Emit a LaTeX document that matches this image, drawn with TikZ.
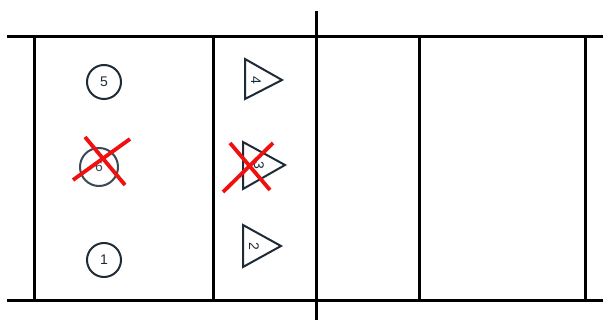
\documentclass[tikz,border=0pt]{standalone}
\usepackage{fontspec}
\setmainfont{Liberation Sans}
\definecolor{ink}{HTML}{1E2B36}
\definecolor{inklight}{HTML}{3B4A55}
\definecolor{xred}{HTML}{F01010}
\begin{document}
\begin{tikzpicture}[x=1pt,y=-1pt,
  court/.style={line width=3pt,black},
  player/.style={circle,draw=ink,line width=2pt,minimum size=34pt,inner sep=0pt,font=\fontsize{14}{14}\selectfont,text=ink},
  tri/.style={draw=ink,line width=2pt,line join=miter},
  lbl/.style={font=\fontsize{14}{14}\selectfont,text=ink,rotate=-90,inner sep=0pt},
  cross/.style={line width=3.8pt,xred}]
\useasboundingbox (0,0) rectangle (603,320);
% court lines
\coordinate (tl) at (7,37); \coordinate (tr) at (603,37);
\coordinate (bl) at (7,301); \coordinate (br) at (603,301);
\draw[court] (tl) -- (tr);
\draw[court] (bl) -- (br);
\foreach \x in {34,213,419,585}{\draw[court] (\x,37) -- (\x,301);}
\coordinate (ct) at (316,11); \coordinate (cb) at (316,320);
\draw[court] (ct) -- (cb);
% circles
\node[player] (p5) at (104,82) {5};
\node[player,draw=inklight,minimum size=38pt,text=inklight] (p6) at (99,167) {6};
\node[player] (p1) at (104,260) {1};
% triangles
\draw[tri] (245,59) -- (282,80) -- (245,99) -- cycle;
\node[lbl] (t4) at (256,80) {4};
\draw[tri] (243,142) -- (285,165) -- (243,189) -- cycle;
\node[lbl] (t3) at (259,165) {3};
\draw[tri] (243,225) -- (281,246) -- (243,267) -- cycle;
\node[lbl] (t2) at (254,246) {2};
% crosses
\coordinate (a1) at (73,180); \coordinate (a2) at (130,139);
\coordinate (a3) at (85,137); \coordinate (a4) at (125,185);
\draw[cross] (a1) -- (a2);
\draw[cross] (a3) -- (a4);
\coordinate (b1) at (223,192); \coordinate (b2) at (273,143);
\coordinate (b3) at (230,143); \coordinate (b4) at (270,190);
\draw[cross] (b1) -- (b2);
\draw[cross] (b3) -- (b4);
\end{tikzpicture}
\end{document}
